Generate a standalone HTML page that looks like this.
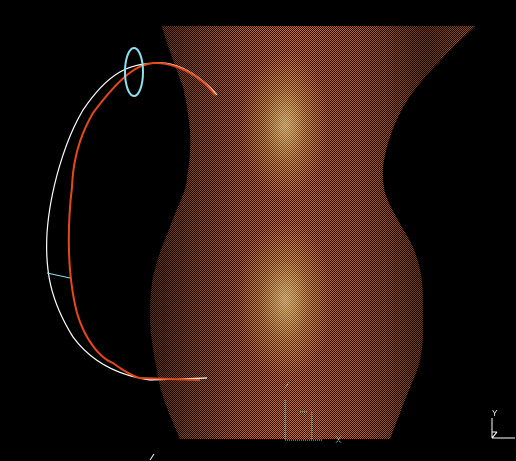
<!DOCTYPE html>
<html><head><meta charset="utf-8"><style>
html,body{margin:0;padding:0;background:#000;width:516px;height:461px;overflow:hidden}
svg{display:block}
</style></head><body>
<svg width="516" height="461" viewBox="0 0 516 461">
<defs>
<pattern id="chk" width="2" height="2" patternUnits="userSpaceOnUse">
<rect width="2" height="2" fill="#1a0a00"/><rect width="1" height="1" fill="#e07020"/><rect x="1" y="1" width="1" height="1" fill="#e07020"/>
</pattern>
<radialGradient id="hl1" cx="0" cy="0" r="1" gradientUnits="userSpaceOnUse" gradientTransform="translate(285,125) scale(45,75)">
<stop offset="0" stop-color="#fff0b0" stop-opacity="0.55"/>
<stop offset="0.5" stop-color="#fff0b0" stop-opacity="0.2"/>
<stop offset="1" stop-color="#fff0b0" stop-opacity="0"/>
</radialGradient>
<radialGradient id="hl2" cx="0" cy="0" r="1" gradientUnits="userSpaceOnUse" gradientTransform="translate(285,300) scale(50,80)">
<stop offset="0" stop-color="#fff0b0" stop-opacity="0.55"/>
<stop offset="0.5" stop-color="#fff0b0" stop-opacity="0.2"/>
<stop offset="1" stop-color="#fff0b0" stop-opacity="0"/>
</radialGradient>
<linearGradient id="shade" x1="148" x2="475" y1="0" y2="0" gradientUnits="userSpaceOnUse">
<stop offset="0" stop-color="#000" stop-opacity="0.6"/>
<stop offset="0.3" stop-color="#000" stop-opacity="0.1"/>
<stop offset="0.45" stop-color="#000" stop-opacity="0"/>
<stop offset="0.65" stop-color="#000" stop-opacity="0.15"/>
<stop offset="0.85" stop-color="#000" stop-opacity="0.5"/>
<stop offset="1" stop-color="#000" stop-opacity="0.3"/>
</linearGradient>
<clipPath id="vc"><path d="M162,26 L475,26 C450,50 430,70 417,87 C400,107 386,140 383,167 C382,185 385,195 390,205 C400,225 410,240 413,247 C420,265 423,280 423,300 L423,337 C422,355 418,370 413,380 C405,400 397,420 390,439 L180,439 C170,415 160,395 157,370 C152,345 150,330 150,313 C150,300 151,290 153,277 C158,255 165,240 170,227 C180,200 187,190 187,177 C190,160 191,145 190,130 C188,110 186,100 183,87 C175,65 167,45 162,26 Z"/></clipPath>
</defs>
<g clip-path="url(#vc)">
<rect x="140" y="25" width="340" height="415" fill="url(#chk)"/>
<rect x="140" y="25" width="340" height="415" fill="url(#hl1)"/>
<rect x="140" y="25" width="340" height="415" fill="url(#hl2)"/>
<rect x="140" y="25" width="340" height="415" fill="url(#shade)"/>
</g>
<path d="M217,95 C200,75 175,60 153,63 C130,65 110,70 83,110 C65,140 50,190 47,233 C45,270 50,300 73,337 C90,360 115,375 150,380 L207,378" fill="none" stroke="#fff" stroke-width="1.2"/>
<path d="M215,95 C200,75 175,62 153,63 C140,65 125,70 93,113 C80,135 73,160 72,187 C68,220 66,270 77,313 C85,340 100,358 113,363 C125,372 135,377 140,378 L200,380" fill="none" stroke="#e84818" stroke-width="2"/>
<ellipse cx="134" cy="72" rx="9" ry="24" fill="none" stroke="#90e0f0" stroke-width="2"/>
<line x1="47" y1="273" x2="70" y2="278" stroke="#90e0f0" stroke-width="1"/>
<g stroke="#90e0f0" stroke-width="1" stroke-dasharray="1,1" fill="none">
<line x1="285" y1="400" x2="285" y2="440"/><line x1="285" y1="440" x2="323" y2="440"/>
<line x1="300" y1="412" x2="307" y2="412"/><line x1="312" y1="412" x2="312" y2="440"/>
<line x1="285" y1="388" x2="289" y2="382"/>
<line x1="336" y1="436" x2="341" y2="443"/><line x1="341" y1="436" x2="336" y2="443"/>
</g>
<g stroke="#fff" stroke-width="1" fill="none">
<line x1="492" y1="418" x2="492" y2="438"/><line x1="492" y1="438" x2="515" y2="438"/>
<line x1="492" y1="432" x2="497" y2="432"/><line x1="492" y1="438" x2="497" y2="432"/>
</g>
<text x="492" y="416" fill="#fff" font-family="Liberation Sans, sans-serif" font-size="8">Y</text>
<line x1="150" y1="460" x2="154" y2="454" stroke="#fff" stroke-width="1"/>
</svg>
</body></html>
